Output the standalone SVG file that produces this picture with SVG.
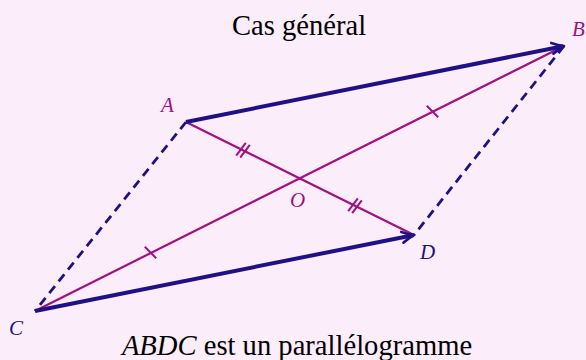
<svg xmlns="http://www.w3.org/2000/svg" width="586" height="360" viewBox="0 0 586 360">
<rect x="0" y="0" width="586" height="360" fill="#fcedfb"/>
<text x="299" y="35" text-anchor="middle" font-family="'Liberation Serif'" font-size="28.6" fill="#000">Cas général</text>
<text x="297" y="355" text-anchor="middle" font-family="'Liberation Serif'" font-size="28.6" fill="#000"><tspan font-style="italic">ABDC</tspan> est un parallélogramme</text>
<g id="A"><text x="161" y="112" fill="#a0117f" font-family="'Liberation Serif'" font-style="italic" font-size="21">A</text></g>
<g id="B"><text x="572" y="36" fill="#a0117f" font-family="'Liberation Serif'" font-style="italic" font-size="21">B</text></g>
<g id="C"><text x="9" y="335" fill="#1f1185" font-family="'Liberation Serif'" font-style="italic" font-size="21">C</text></g>
<g id="D"><text x="420" y="259" fill="#1f1185" font-family="'Liberation Serif'" font-style="italic" font-size="21">D</text></g>
<g id="O"><text x="290" y="207" fill="#a0117f" font-family="'Liberation Serif'" font-style="italic" font-size="21">O</text></g>
<g id="connectors" fill="none">
<line x1="186" y1="122" x2="414" y2="235" stroke="#a0117f" stroke-width="2.2"/>
<line x1="35" y1="311" x2="564" y2="46" stroke="#a0117f" stroke-width="2.2"/>
<line x1="186" y1="122" x2="35" y2="311" stroke="#1f1185" stroke-width="2.8" stroke-dasharray="9 6"/>
<line x1="564" y1="46" x2="414" y2="235" stroke="#1f1185" stroke-width="2.8" stroke-dasharray="9 6"/>
<line x1="186" y1="122" x2="563" y2="46.2" stroke="#1f1185" stroke-width="4"/>
<line x1="35" y1="311" x2="413" y2="235.2" stroke="#1f1185" stroke-width="4"/>
<path d="M551.2,42.9 Q558.2,45.2 564,46 Q558.9,48.7 553.4,53.7" stroke="#1f1185" stroke-width="2.6" stroke-linecap="round" stroke-linejoin="round"/>
<path d="M401.2,231.9 Q408.2,234.2 414,235 Q408.9,237.7 403.4,242.7" stroke="#1f1185" stroke-width="2.6" stroke-linecap="round" stroke-linejoin="round"/>
<line x1="144.8" y1="246.8" x2="156.2" y2="258.2" stroke="#a0117f" stroke-width="2"/>
<line x1="426.8" y1="105.8" x2="438.2" y2="117.2" stroke="#a0117f" stroke-width="2"/>
<line x1="236.2" y1="155.7" x2="245.8" y2="142.9" stroke="#a0117f" stroke-width="2"/>
<line x1="240.2" y1="157.7" x2="249.8" y2="144.9" stroke="#a0117f" stroke-width="2"/>
<line x1="348.2" y1="211.2" x2="357.8" y2="198.4" stroke="#a0117f" stroke-width="2"/>
<line x1="352.2" y1="213.2" x2="361.8" y2="200.4" stroke="#a0117f" stroke-width="2"/>
</g>
</svg>
